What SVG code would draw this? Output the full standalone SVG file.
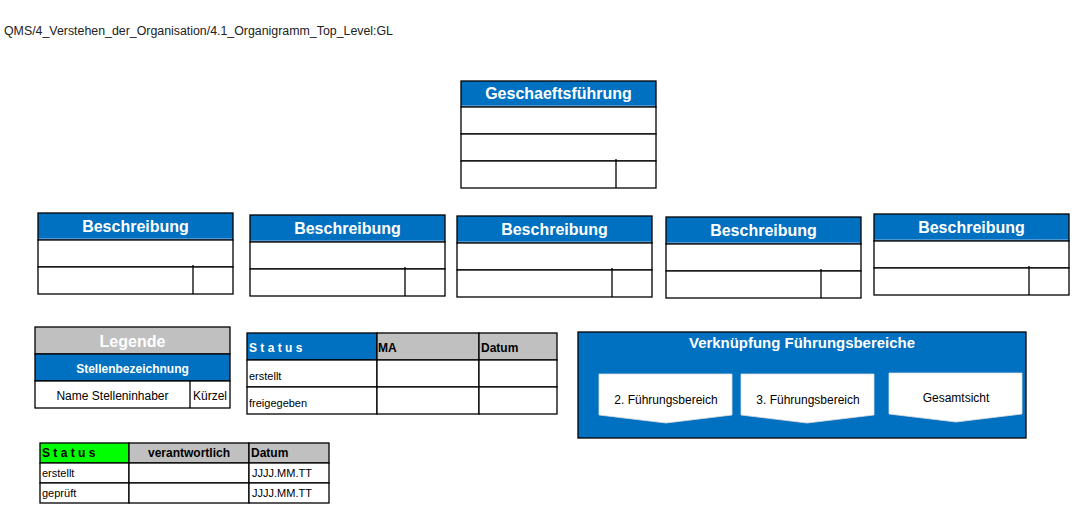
<svg xmlns="http://www.w3.org/2000/svg" width="1089" height="511" viewBox="0 0 1089 511">
<style>
.cell{fill:#ffffff;stroke:#000000;stroke-width:1.3}
.hdr{fill:#0070c0;stroke:#000000;stroke-width:1.3}
.gry{fill:#c0c0c0;stroke:#000000;stroke-width:1.3}
.grn{fill:#00ff00;stroke:#000000;stroke-width:1.3}
.ln{stroke:#000000;stroke-width:1.3;fill:none}
.hl{stroke:#9dc3e6;stroke-width:1;fill:none}
.t{font-family:"Liberation Sans",Arial,sans-serif}
.h16{font-size:16px;font-weight:bold;fill:#ffffff;text-anchor:middle}
.b12w{font-size:12px;font-weight:bold;fill:#ffffff}
.b12{font-size:12px;font-weight:bold;fill:#000000}
.r12{font-size:12px;fill:#000000}
.s11{font-size:11px;fill:#000000}
.pent{fill:#ffffff;stroke:#dddddd;stroke-width:0.8}
</style>
<rect x="0" y="0" width="1089" height="511" fill="#ffffff"/>
<text class="t" x="4" y="35" font-size="12.3" fill="#222222" textLength="389" lengthAdjust="spacingAndGlyphs">QMS/4_Verstehen_der_Organisation/4.1_Organigramm_Top_Level:GL</text>

<g id="geschaeftsfuehrung">
<rect class="hdr" x="461" y="81" width="195" height="26"/>
<line class="hl" x1="462" y1="106" x2="655" y2="106"/>
<rect class="cell" x="461" y="107" width="195" height="27"/>
<rect class="cell" x="461" y="134" width="195" height="27"/>
<rect class="cell" x="461" y="161" width="195" height="27"/>
<line class="ln" x1="616" y1="159" x2="616" y2="188"/>
<text class="t h16" x="558.5" y="99">Geschaeftsführung</text>
</g>

<g id="beschreibung1">
<rect class="hdr" x="38" y="213" width="195" height="27"/>
<line class="hl" x1="39" y1="239" x2="232" y2="239"/>
<rect class="cell" x="38" y="240" width="195" height="27"/>
<rect class="cell" x="38" y="267" width="195" height="27"/>
<line class="ln" x1="193" y1="265" x2="193" y2="294"/>
<text class="t h16" x="135.5" y="232">Beschreibung</text>
</g>

<g id="beschreibung2">
<rect class="hdr" x="250" y="215" width="195" height="27"/>
<line class="hl" x1="251" y1="241" x2="444" y2="241"/>
<rect class="cell" x="250" y="242" width="195" height="27"/>
<rect class="cell" x="250" y="269" width="195" height="27"/>
<line class="ln" x1="405" y1="267" x2="405" y2="296"/>
<text class="t h16" x="347.5" y="234">Beschreibung</text>
</g>

<g id="beschreibung3">
<rect class="hdr" x="457" y="216" width="195" height="27"/>
<line class="hl" x1="458" y1="242" x2="651" y2="242"/>
<rect class="cell" x="457" y="243" width="195" height="27"/>
<rect class="cell" x="457" y="270" width="195" height="27"/>
<line class="ln" x1="612" y1="268" x2="612" y2="297"/>
<text class="t h16" x="554.5" y="235">Beschreibung</text>
</g>

<g id="beschreibung4">
<rect class="hdr" x="666" y="217" width="195" height="27"/>
<line class="hl" x1="667" y1="243" x2="860" y2="243"/>
<rect class="cell" x="666" y="244" width="195" height="27"/>
<rect class="cell" x="666" y="271" width="195" height="27"/>
<line class="ln" x1="821" y1="269" x2="821" y2="298"/>
<text class="t h16" x="763.5" y="236">Beschreibung</text>
</g>

<g id="beschreibung5">
<rect class="hdr" x="874" y="214" width="195" height="27"/>
<line class="hl" x1="875" y1="240" x2="1068" y2="240"/>
<rect class="cell" x="874" y="241" width="195" height="27"/>
<rect class="cell" x="874" y="268" width="195" height="27"/>
<line class="ln" x1="1029" y1="266" x2="1029" y2="295"/>
<text class="t h16" x="971.5" y="233">Beschreibung</text>
</g>

<g id="legende">
<rect class="gry" x="35" y="327" width="195" height="27"/>
<rect class="hdr" x="35" y="354" width="195" height="27"/>
<rect class="cell" x="35" y="381" width="195" height="27"/>
<line class="ln" x1="190" y1="381" x2="190" y2="408"/>
<text class="t h16" x="132.5" y="347">Legende</text>
<text class="t b12w" x="132.5" y="373" text-anchor="middle">Stellenbezeichnung</text>
<text class="t r12" x="112.5" y="400" text-anchor="middle">Name Stelleninhaber</text>
<text class="t r12" x="210" y="400" text-anchor="middle">Kürzel</text>
</g>

<g id="status_freigabe">
<rect class="hdr" x="247" y="333" width="130" height="27"/>
<rect class="gry" x="377" y="333" width="102" height="27"/>
<rect class="gry" x="479" y="333" width="78" height="27"/>
<rect class="cell" x="247" y="360" width="130" height="27"/>
<rect class="cell" x="377" y="360" width="102" height="27"/>
<rect class="cell" x="479" y="360" width="78" height="27"/>
<rect class="cell" x="247" y="387" width="130" height="27"/>
<rect class="cell" x="377" y="387" width="102" height="27"/>
<rect class="cell" x="479" y="387" width="78" height="27"/>
<text class="t b12w" x="249" y="352">S t a t u s</text>
<text class="t b12" x="378" y="352">MA</text>
<text class="t b12" x="481" y="352">Datum</text>
<text class="t s11" x="249" y="380">erstellt</text>
<text class="t s11" x="249" y="407">freigegeben</text>
</g>

<g id="verknuepfung">
<rect x="578" y="332" width="448" height="106" fill="#0070c0" stroke="#000000" stroke-width="1.3"/>
<text class="t" x="802" y="348" font-size="14.5" font-weight="bold" fill="#ffffff" text-anchor="middle" textLength="226" lengthAdjust="spacingAndGlyphs">Verknüpfung Führungsbereiche</text>
<polygon class="pent" points="599,374 732,374 732,415 666,423 599,415"/>
<polygon class="pent" points="741,374 874,374 874,415 807,423 741,415"/>
<polygon class="pent" points="889,373 1022,373 1022,414 956,422 889,414"/>
<text class="t r12" x="666" y="404" text-anchor="middle">2. Führungsbereich</text>
<text class="t r12" x="808" y="404" text-anchor="middle">3. Führungsbereich</text>
<text class="t r12" x="956" y="402" text-anchor="middle">Gesamtsicht</text>
</g>

<g id="status_pruefung">
<rect class="grn" x="40" y="443" width="89" height="20"/>
<rect class="gry" x="129" y="443" width="120" height="20"/>
<rect class="gry" x="249" y="443" width="80" height="20"/>
<rect class="cell" x="40" y="463" width="89" height="20"/>
<rect class="cell" x="129" y="463" width="120" height="20"/>
<rect class="cell" x="249" y="463" width="80" height="20"/>
<rect class="cell" x="40" y="483" width="89" height="20"/>
<rect class="cell" x="129" y="483" width="120" height="20"/>
<rect class="cell" x="249" y="483" width="80" height="20"/>
<text class="t b12" x="42" y="457">S t a t u s</text>
<text class="t b12" x="189" y="457" text-anchor="middle">verantwortlich</text>
<text class="t b12" x="251" y="457">Datum</text>
<text class="t s11" x="42" y="477">erstellt</text>
<text class="t s11" x="42" y="497">geprüft</text>
<text class="t s11" x="252" y="477">JJJJ.MM.TT</text>
<text class="t s11" x="252" y="497">JJJJ.MM.TT</text>
</g>

<g id="connectors"/>
</svg>
